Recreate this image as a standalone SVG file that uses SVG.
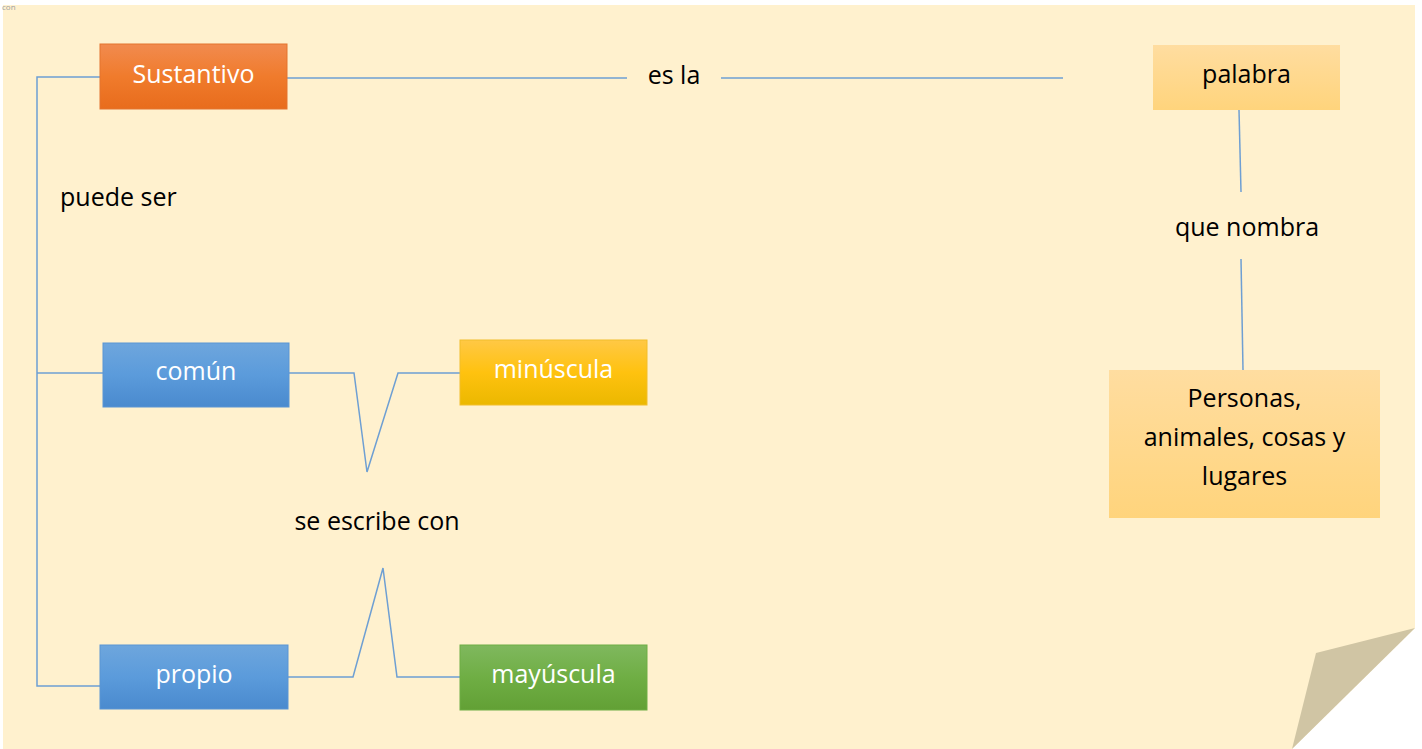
<svg xmlns="http://www.w3.org/2000/svg" width="1422" height="749" viewBox="0 0 1422 749">
<defs>
<linearGradient id="gOrange" x1="0" y1="0" x2="0" y2="1"><stop offset="0" stop-color="#F18B4F"/><stop offset="0.5" stop-color="#F07B2C"/><stop offset="1" stop-color="#E86C1C"/></linearGradient>
<linearGradient id="gBlue" x1="0" y1="0" x2="0" y2="1"><stop offset="0" stop-color="#6EA6DD"/><stop offset="0.5" stop-color="#5B9BDB"/><stop offset="1" stop-color="#4A8ACE"/></linearGradient>
<linearGradient id="gGold" x1="0" y1="0" x2="0" y2="1"><stop offset="0" stop-color="#FFC845"/><stop offset="0.5" stop-color="#FFC20F"/><stop offset="1" stop-color="#EBB800"/></linearGradient>
<linearGradient id="gGreen" x1="0" y1="0" x2="0" y2="1"><stop offset="0" stop-color="#7FB85E"/><stop offset="0.5" stop-color="#6FAE44"/><stop offset="1" stop-color="#62A035"/></linearGradient>
<linearGradient id="gPale" x1="0" y1="0" x2="0" y2="1"><stop offset="0" stop-color="#FFDDA0"/><stop offset="1" stop-color="#FFD47C"/></linearGradient>
</defs>
<style>
text{font-family:"Open Sans","Liberation Sans",sans-serif;font-size:25px}
.w{fill:#FFFFFF;text-anchor:middle}
.b{fill:#000000;text-anchor:middle}
.lbl{fill:#000000}
.c{fill:none;stroke:#6E9FD3;stroke-width:1.5}
.box{stroke-width:1}
</style>
<rect x="0" y="0" width="1422" height="749" fill="#FFFFFF"/>
<polygon points="3,5 1415,5 1415,628 1292,749 3,749" fill="#FFF1CE"/>
<polygon points="1415,628 1316,653 1292,749" fill="#D0C5A4"/>
<text x="2" y="10" style="font-size:8px;fill:#A0A0A0">con</text>

<g id="connectors">
<polyline class="c" points="100,77 37,77 37,686 100,686"/>
<line class="c" x1="37" y1="373" x2="103" y2="373"/>
<line class="c" x1="287" y1="78" x2="627" y2="78"/>
<line class="c" x1="721" y1="78" x2="1063" y2="78"/>
<line class="c" x1="1239" y1="110" x2="1241" y2="192"/>
<line class="c" x1="1241" y1="259" x2="1243" y2="370"/>
<polyline class="c" points="289,373 354,373 367,472 398,373 460,373"/>
<polyline class="c" points="288,677 353,677 383,568 397,677 460,677"/>
</g>

<g id="sustantivo">
<rect class="box" x="100" y="44" width="187" height="65" fill="url(#gOrange)" stroke="#E4742E"/>
<text class="w" x="193.5" y="83">Sustantivo</text>
</g>
<g id="comun">
<rect class="box" x="103" y="343" width="186" height="64" fill="url(#gBlue)" stroke="#5A95D4"/>
<text class="w" x="196" y="380">común</text>
</g>
<g id="propio">
<rect class="box" x="100" y="645" width="188" height="64" fill="url(#gBlue)" stroke="#5A95D4"/>
<text class="w" x="194" y="683">propio</text>
</g>
<g id="minuscula">
<rect class="box" x="460" y="340" width="187" height="65" fill="url(#gGold)" stroke="#F2BE2A"/>
<text class="w" x="553.5" y="378">minúscula</text>
</g>
<g id="mayuscula">
<rect class="box" x="460" y="645" width="187" height="65" fill="url(#gGreen)" stroke="#6FAE44"/>
<text class="w" x="553.5" y="683">mayúscula</text>
</g>
<g id="palabra">
<rect x="1153" y="45" width="187" height="65" fill="url(#gPale)"/>
<text class="b" x="1246.5" y="83">palabra</text>
</g>
<g id="personas">
<rect x="1109" y="370" width="271" height="148" fill="url(#gPale)"/>
<text class="b" x="1244.5" y="407">Personas,</text>
<text class="b" x="1244.5" y="446">animales, cosas y</text>
<text class="b" x="1244.5" y="485">lugares</text>
</g>

<g id="labels">
<text class="lbl" x="60" y="206">puede ser</text>
<text class="b" x="377" y="530">se escribe con</text>
<text class="b" x="674" y="84">es la</text>
<text class="b" x="1247" y="236">que nombra</text>
</g>
</svg>
